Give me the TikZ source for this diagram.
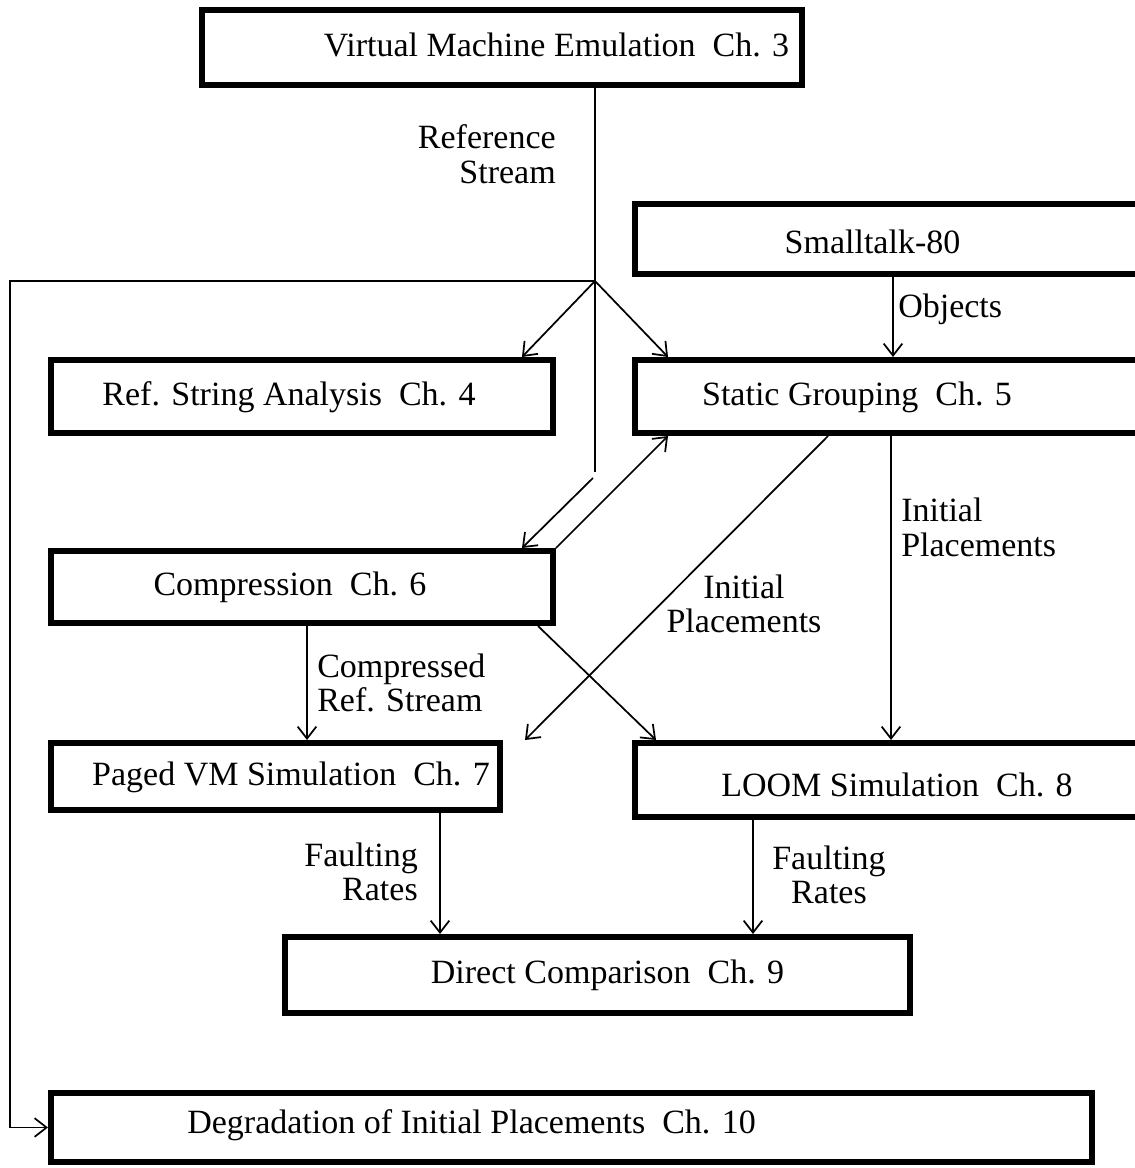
\documentclass[tikz,border=0pt]{standalone}
\usepackage{fontspec}
\setmainfont{Liberation Serif}
\usetikzlibrary{arrows.meta}
\begin{document}
\begin{tikzpicture}[x=0.75pt,y=-0.75pt,
  box/.style={draw, line width=4.5pt, inner sep=0pt},
  lbl/.style={font=\fontsize{25.5}{26}\selectfont, inner sep=0pt},
  conn/.style={line width=1.3pt},
  arr/.style={conn, -{Straight Barb[length=9pt,width=14pt,line width=1.3pt]}}]
\useasboundingbox (0,0) rectangle (1135,1168);
\clip (0,0) rectangle (1135,1168);
% boxes
\node[box, minimum width=450pt, minimum height=56.25pt] (vm) at (502,47.5) {};
\node[box, minimum width=393.75pt, minimum height=52.5pt] (st) at (897.5,239) {};
\node[box, minimum width=376.5pt, minimum height=54.75pt] (refs) at (302,396.5) {};
\node[box, minimum width=393.75pt, minimum height=54.75pt] (stat) at (897.5,396.5) {};
\node[box, minimum width=376.5pt, minimum height=54pt] (comp) at (302,587) {};
\node[box, minimum width=336.75pt, minimum height=50.25pt] (paged) at (275.5,776.5) {};
\node[box, minimum width=393.75pt, minimum height=55.5pt] (loom) at (897.5,780) {};
\node[box, minimum width=468.75pt, minimum height=57pt] (direct) at (597.5,975) {};
\node[box, minimum width=780.75pt, minimum height=51.75pt] (deg) at (571.5,1127.5) {};
% box texts
\node[lbl] (vm-t) at (556.5,45) {Virtual Machine Emulation~ Ch. 3};
\node[lbl] (st-t) at (872.5,242) {Smalltalk-80};
\node[lbl] (refs-t) at (289,397) {Ref. String Analysis~ Ch. 4};
\node[lbl] (stat-t) at (857,397) {Static Grouping~ Ch. 5};
\node[lbl] (comp-t) at (290,587) {Compression~ Ch. 6};
\node[lbl] (paged-t) at (291,777) {Paged VM Simulation~ Ch. 7};
\node[lbl] (loom-t) at (897,785) {LOOM Simulation~ Ch. 8};
\node[lbl] (direct-t) at (607.5,975) {Direct Comparison~ Ch. 9};
\node[lbl] (deg-t) at (471.5,1125) {Degradation of Initial Placements~ Ch. 10};
% connector labels
\node[lbl, align=right, anchor=east] (l-ref) at (556,154) {Reference\\Stream};
\node[lbl, anchor=west] (l-obj) at (898,309) {Objects};
\node[lbl, align=left, anchor=west] (l-ip1) at (901,527.5) {Initial\\Placements};
\node[lbl, align=center] (l-ip2) at (744,604) {Initial\\Placements};
\node[lbl, align=left, anchor=west] (l-crs) at (317,683) {Compressed\\Ref. Stream};
\node[lbl, align=right, anchor=east] (l-fr1) at (418,872) {Faulting\\Rates};
\node[lbl, align=center] (l-fr2) at (829,875) {Faulting\\Rates};
% helper coordinates
\coordinate (j) at (595,281);
\coordinate (lc) at (10,281);
\coordinate (vend) at (595,472);
\coordinate (dstart) at (593,478);
\coordinate (x522) at (522,0);
\coordinate (x668) at (668,0);
\coordinate (x893) at (893,0);
\coordinate (x891) at (891,0);
\coordinate (x828) at (828,0);
\coordinate (x525) at (525,0);
\coordinate (x538) at (538,0);
\coordinate (x656) at (656,0);
\coordinate (x307) at (307,0);
\coordinate (x440) at (440,0);
\coordinate (x753) at (753,0);
% connectors
\draw[conn] (j |- vm.south) -- (vend);
\draw[arr] (j) -- (lc) |- (deg.west);
\draw[arr] (j) -- (refs.north -| x522);
\draw[arr] (j) -- (stat.north -| x668);
\draw[arr] (st.south -| x893) -- (stat.north -| x893);
\draw[arr] (dstart) -- (comp.north -| x522);
\draw[arr] (comp.north east) -- (stat.south -| x668);
\draw[arr] (stat.south -| x828) -- (paged.north -| x525);
\draw[arr] (comp.south -| x538) -- (loom.north -| x656);
\draw[arr] (stat.south -| x891) -- (loom.north -| x891);
\draw[arr] (comp.south -| x307) -- (paged.north -| x307);
\draw[arr] (paged.south -| x440) -- (direct.north -| x440);
\draw[arr] (loom.south -| x753) -- (direct.north -| x753);
\end{tikzpicture}
\end{document}
